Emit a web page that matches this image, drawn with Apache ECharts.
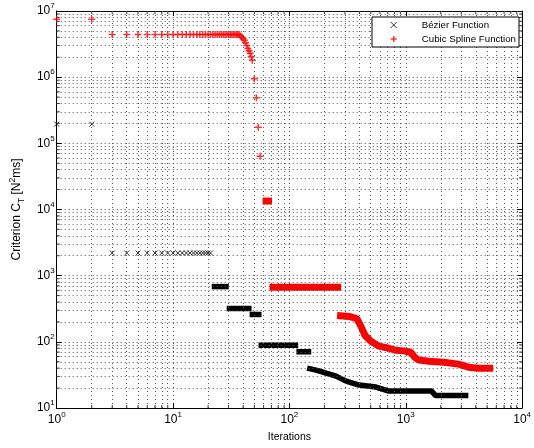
<!DOCTYPE html>
<html><head><meta charset="utf-8">
<script src="https://cdn.jsdelivr.net/npm/echarts@6/dist/echarts.min.js"></script>
<style>html,body{margin:0;padding:0;background:#fff}#c{width:534px;height:448px}</style>
</head><body><div id="c"></div>
<script>
const FONT = '"Liberation Sans", Arial, Helvetica, sans-serif';

// axis ranges / ticks
const xMin = 1, xMax = 10000;
const yMin = 10, yMax = 1e7;
const minorMultipliers = [2, 3, 4, 5, 6, 7, 8, 9];
const xDecades = [1, 10, 100, 1000];
const yDecades = [10, 100, 1000, 1e4, 1e5, 1e6];

// Bézier function: individual markers
const bezierIter = [1, 2, 3, 4, 5, 6, 7, 8, 9, 10, 11, 12, 13, 14, 15, 16, 17, 18, 19, 20, 21];
const bezierValue = [195000, 195000, 2200, 2200, 2200, 2200, 2200, 2200, 2200, 2200, 2200, 2200, 2200, 2200, 2200, 2200, 2200, 2200, 2200, 2200, 2200];
// Bézier function: dense runs of markers (null separates runs)
const bezierBandIter = [21.5, 30.1, null, 28.9, 47.3, null, 45.5, 57.6, null, 54.3, 119, null, 114.8, 154, null,
  142, 173, 207, 252, 307, 397, 555, 716, 1667, 1804, 3453];
const bezierBandValue = [684, 684, null, 319, 319, null, 259, 259, null, 88.6, 88.6, null, 70.8, 70.8, null,
  40, 37, 33.6, 30.3, 25.5, 22.2, 20.7, 18.0, 18.0, 15.4, 15.4];

// Cubic spline function: individual markers
const splineIter = [1, 2, 3, 4, 5, 6, 7, 8, 9, 10, 11, 12, 13, 14, 15, 16, 17, 18, 19, 20, 21, 22, 23, 24, 25, 26, 27, 28, 29, 30, 31, 32, 33, 34, 35, 36, 37,
  38, 39, 40, 41, 42, 43, 44, 45, 46, 47, 48, 50, 52, 54, 56];
const splineValue = [7.5e6, 7.5e6, 4.4e6, 4.4e6, 4.4e6, 4.4e6, 4.4e6, 4.4e6, 4.4e6, 4.4e6, 4.4e6, 4.4e6, 4.4e6, 4.4e6, 4.4e6, 4.4e6, 4.4e6, 4.4e6, 4.4e6, 4.4e6, 4.4e6, 4.4e6, 4.4e6, 4.4e6, 4.4e6, 4.4e6, 4.4e6, 4.4e6, 4.4e6, 4.4e6, 4.4e6, 4.4e6, 4.4e6, 4.4e6, 4.4e6, 4.4e6, 4.4e6,
  4.2e6, 4.0e6, 3.8e6, 3.6e6, 3.3e6, 3.0e6, 2.7e6, 2.5e6, 2.3e6, 2.05e6, 1.8e6, 9.5e5, 4.9e5, 1.75e5, 6.4e4];
// Cubic spline function: dense runs
const splineBandIter = [58.8, 71, null, 67.5, 278, null,
  257, 326, 380, 412, 447, 502, 588, 716, 822, 961, 1104, 1194, 1292, 1573, 2113, 2838, 3453, 4207, 5648];
const splineBandValue = [13400, 13400, null, 670, 670, null,
  250, 242, 225, 171, 125, 102, 86, 80, 74.5, 73, 69.5, 58.5, 53, 51, 49, 46, 41.4, 40, 40];

const X_PATH = 'path://M0 0L10 10M10 0L0 10';
const PLUS_PATH = 'path://M5 0L5 10M0 5L10 5';

function zip(a, b) { return a.map((v, i) => [v, b[i]]); }
function runs(a, b) {
  const out = []; let cur = [];
  a.forEach((v, i) => {
    if (v == null) { if (cur.length) out.push(cur); cur = []; }
    else cur.push([v, b[i]]);
  });
  if (cur.length) out.push(cur);
  return out;
}
const xMinor = [].concat(...xDecades.map(d => minorMultipliers.map(m => m * d)));
const yMinor = [].concat(...yDecades.map(d => minorMultipliers.map(m => m * d)));

const gridLine = { color: '#555', type: [1, 3], width: 1 };
const labelRich = {
  b: { fontSize: 12, lineHeight: 18, fontFamily: FONT, color: '#000' },
  s: { fontSize: 8, verticalAlign: 'top', fontFamily: FONT, color: '#000' }
};
const fmt = v => '{b|10}{s|' + Math.round(Math.log10(v)) + '}';

const tickStyle = { color: '#000' };
const series = [
  { type: 'scatter', data: [], silent: true, z: 1,
    markLine: { silent: true, symbol: ['none', 'none'], label: { show: false }, animation: false,
      lineStyle: gridLine, emphasis: { disabled: true },
      data: xMinor.map(v => ({ xAxis: v })).concat(yMinor.map(v => ({ yAxis: v }))) } },
  { type: 'scatter', silent: true, clip: false, z: 2, symbol: 'rect', symbolSize: [1, 3], symbolOffset: [0, -1.5],
    itemStyle: tickStyle, data: xMinor.map(v => [v, yMin]) },
  { type: 'scatter', silent: true, clip: false, z: 2, symbol: 'rect', symbolSize: [1, 3], symbolOffset: [0, 1.5],
    itemStyle: tickStyle, data: xMinor.map(v => [v, yMax]) },
  { type: 'scatter', silent: true, clip: false, z: 2, symbol: 'rect', symbolSize: [3, 1], symbolOffset: [1.5, 0],
    itemStyle: tickStyle, data: yMinor.map(v => [xMin, v]) },
  { type: 'scatter', silent: true, clip: false, z: 2, symbol: 'rect', symbolSize: [3, 1], symbolOffset: [-1.5, 0],
    itemStyle: tickStyle, data: yMinor.map(v => [xMax, v]) },
  { name: 'Bézier Function', type: 'scatter', clip: false, z: 4, symbol: X_PATH, symbolSize: 5,
    itemStyle: { color: '#000', borderColor: '#000', borderWidth: 1 }, data: zip(bezierIter, bezierValue) },
  { name: 'Cubic Spline Function', type: 'scatter', clip: false, z: 4, symbol: PLUS_PATH, symbolSize: 7,
    itemStyle: { color: '#ff0000', borderColor: '#ff0000', borderWidth: 1.5 }, data: zip(splineIter, splineValue) }
];
runs(bezierBandIter, bezierBandValue).forEach(seg => series.push({
  type: 'line', data: seg, symbol: 'none', showSymbol: false, silent: true, z: 3, clip: false,
  lineStyle: { color: '#000', width: 5.5 } }));
runs(splineBandIter, splineBandValue).forEach(seg => series.push({
  type: 'line', data: seg, symbol: 'none', showSymbol: false, silent: true, z: 3, clip: false,
  lineStyle: { color: '#ff0000', width: 7 } }));

const axisLine = { show: true, onZero: false, lineStyle: { color: '#000', width: 1 } };
const axisTick = { show: true, inside: true, length: 5, lineStyle: { color: '#000' } };

const option = {
  animation: false,
  backgroundColor: '#fff',
  textStyle: { fontFamily: FONT, color: '#000' },
  grid: { left: 56, right: 10, top: 11, bottom: 38, containLabel: false },
  legend: {
    data: [
      { name: 'Bézier Function', icon: X_PATH, itemStyle: { color: '#000', borderColor: '#000', borderWidth: 1 } },
      { name: 'Cubic Spline Function', icon: PLUS_PATH, itemStyle: { color: '#ff0000', borderColor: '#ff0000', borderWidth: 1.5 } }
    ],
    orient: 'vertical', left: 372, top: 17, itemWidth: 28, itemHeight: 6, itemGap: 4,
    padding: [3, 3, 3, 18], selectedMode: false, borderColor: '#000', borderWidth: 1, backgroundColor: '#fff',
    textStyle: { fontSize: 9.7, color: '#000', fontFamily: FONT, padding: [0, 0, 0, 9] }, z: 10
  },
  xAxis: [
    { type: 'log', logBase: 10, min: xMin, max: xMax, name: 'Iterations', nameLocation: 'middle', nameGap: 24,
      nameTextStyle: { fontSize: 10.5, color: '#000', fontFamily: FONT },
      axisLine, axisTick,
      axisLabel: { formatter: fmt, rich: labelRich, margin: 3, showMinLabel: true, showMaxLabel: true },
      splitLine: { show: true, lineStyle: gridLine }, minorTick: { show: false }, minorSplitLine: { show: false } },
    { type: 'log', logBase: 10, min: xMin, max: xMax, position: 'top', axisLine, axisTick,
      axisLabel: { show: false }, splitLine: { show: false } }
  ],
  yAxis: [
    { type: 'log', logBase: 10, min: yMin, max: yMax, name: 'Criterion C{sub|T} [N{sup|2}ms]', nameLocation: 'middle',
      nameRotate: 90, nameGap: 21,
      nameTextStyle: { fontSize: 12, lineHeight: 18, color: '#000', fontFamily: FONT,
        rich: { sub: { fontSize: 8.5, verticalAlign: 'bottom', fontFamily: FONT, color: '#000' },
                sup: { fontSize: 8.5, verticalAlign: 'top', fontFamily: FONT, color: '#000' } } },
      axisLine, axisTick,
      axisLabel: { formatter: fmt, rich: labelRich, margin: 2, showMinLabel: true, showMaxLabel: true },
      splitLine: { show: true, lineStyle: gridLine } },
    { type: 'log', logBase: 10, min: yMin, max: yMax, position: 'right', axisLine, axisTick,
      axisLabel: { show: false }, splitLine: { show: false } }
  ],
  series
};
const chart = echarts.init(document.getElementById('c'), null, { renderer: 'canvas' });
chart.setOption(option);
</script></body></html>
